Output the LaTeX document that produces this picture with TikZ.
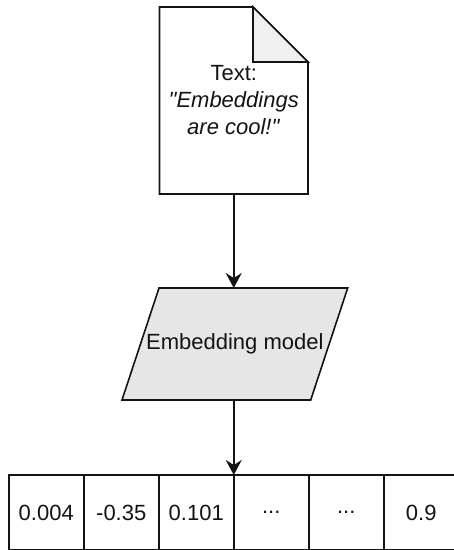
\documentclass[tikz,border=0pt]{standalone}
\usepackage{fontspec}
\setmainfont{Liberation Sans}
\usepackage{tikz}
\usetikzlibrary{arrows.meta,positioning,calc,backgrounds}
\definecolor{ink}{RGB}{20,20,20}
\definecolor{fold}{RGB}{240,240,240}
\definecolor{model}{RGB}{230,230,230}
\tikzset{
  doc/.style={rectangle,inner sep=0pt,outer sep=0pt,minimum width=148.5pt,
    minimum height=187pt,align=center,text=ink},
  para/.style={rectangle,inner sep=0pt,outer sep=0pt,minimum width=188.7pt,
    minimum height=112pt,text=ink},
  outline/.style={draw=ink,line width=1.6pt,line join=miter},
  cell/.style={draw=ink,line width=1.6pt,inner sep=0pt,outer sep=0pt,
    minimum width=75pt,minimum height=75pt,text=ink},
  arr/.style={-{Stealth[length=15pt,width=16pt,inset=5pt]},line width=1.6pt,ink},
}
\newcommand{\qt}{\textquotedbl}

\begin{document}
\begin{tikzpicture}[x=1pt,y=1pt,font=\fontsize{22}{27}\selectfont]
  \useasboundingbox (0,0) rectangle (454,550);

  \node[doc] (text) at (233.75,449.5)
    {Text:\\\textit{\qt Embeddings}\\\textit{are cool!\qt}};
  \node[para] (enc) at (234.85,206) {Embedding model};

  % vector row
  \node[cell] (c1) at (46.25,37.5) {0.004};
  \node[cell,right=0pt of c1] (c2) {-0.35};
  \node[cell,right=0pt of c2] (c3) {0.101};
  \node[cell,right=0pt of c3] (c4) {...};
  \node[cell,right=0pt of c4] (c5) {...};
  \node[cell,right=0pt of c5] (c6) {0.9};

  \begin{scope}[on background layer]
    % page with a folded corner
    \draw[outline,fill=white]
      (text.north west) -- ($(text.north east)+(-55,0)$)
      -- ($(text.north east)+(0,-55)$) -- (text.south east)
      -- (text.south west) -- cycle;
    \draw[outline,fill=fold]
      ($(text.north east)+(-55,0)$) -- ($(text.north east)+(-55,-55)$)
      -- ($(text.north east)+(0,-55)$) -- cycle;
    % slanted box for the model
    \draw[outline,fill=model]
      ($(enc.north west)+(18.5,0)$) -- ($(enc.north east)+(18.5,0)$)
      -- ($(enc.south east)+(-18.5,0)$) -- ($(enc.south west)+(-18.5,0)$)
      -- cycle;
  \end{scope}

  \draw[arr] (text.south) -- (text.south |- enc.north);
  \draw[arr] (text.south |- enc.south) -- (text.south |- c3.north);
\end{tikzpicture}
\end{document}
